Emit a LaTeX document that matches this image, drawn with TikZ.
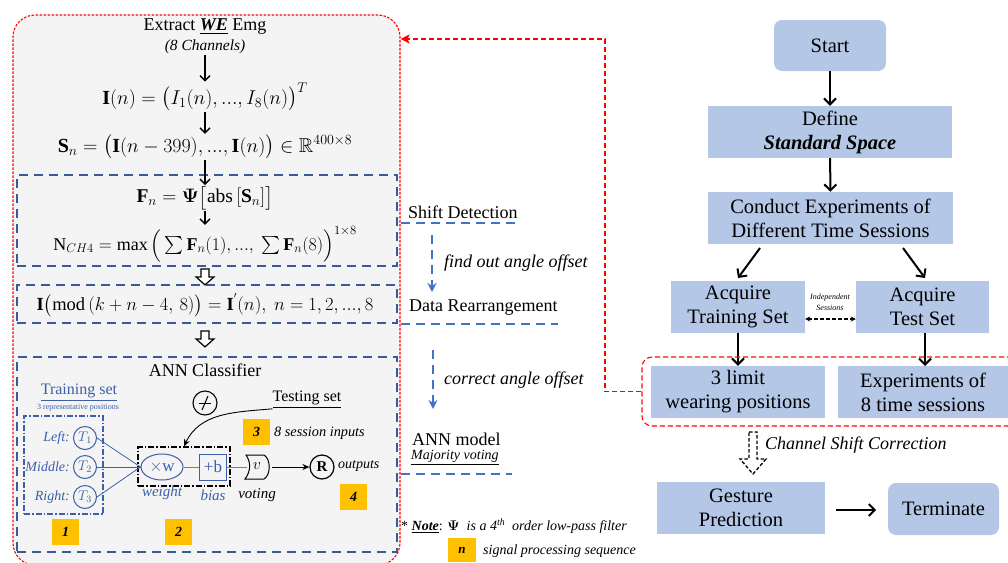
\RequirePackage{fix-cm}
\documentclass[tikz,border=0pt]{standalone}
\usepackage{amsmath,amssymb}
\usepackage{fontspec}
\setmainfont{Liberation Serif}
\usetikzlibrary{arrows.meta,shapes.geometric,calc}
\definecolor{boxblue}{HTML}{B4C7E7}
\definecolor{panelgray}{HTML}{F4F4F4}
\definecolor{dkblue}{HTML}{3A5A98}
\definecolor{ltblue}{HTML}{4472C4}
\definecolor{tblue}{HTML}{3D5FA8}
\definecolor{gold}{HTML}{FFC000}
\definecolor{redd}{HTML}{FF0000}
\newcommand\myfs[2]{\fontsize{#1}{#2}\selectfont}
\tikzset{
  fbox/.style={fill=boxblue, minimum width=244, minimum height=52, align=center, inner sep=0, font=\myfs{20.5}{24}},
  sbox/.style={fill=boxblue, minimum width=134, minimum height=52, align=center, inner sep=0, font=\myfs{20.5}{24}},
  rbox/.style={fill=boxblue, rounded corners=8, align=center, inner sep=0, font=\myfs{20.5}{24}},
  bigarr/.style={line width=2pt, -{Straight Barb[length=6pt,width=12pt]}},
  smarr/.style={line width=1.4pt, -{Straight Barb[length=5pt,width=10pt]}},
  bluebox/.style={draw=dkblue, line width=1.8pt, dash pattern=on 9pt off 6pt, minimum width=380, inner sep=0},
  ltdash/.style={draw=ltblue, line width=1.8pt, dash pattern=on 9pt off 6pt},
  formula/.style={inner sep=1},
  mid/.style={anchor=west, inner sep=0, font=\myfs{18}{21}},
  midit/.style={anchor=west, inner sep=0, font=\myfs{18}{21}\itshape},
  obox/.style={fill=gold, minimum width=27, minimum height=26, inner sep=0, font=\myfs{14}{16}\bfseries\itshape},
  tcirc/.style={circle, draw=tblue, line width=1pt, minimum size=23, inner sep=0, text=tblue, font=\myfs{14}{16}},
  lbl/.style={anchor=east, inner sep=0, text=tblue, font=\myfs{14}{16}\itshape},
  reddash/.style={draw=redd, line width=1.1pt, dash pattern=on 5pt off 3pt},
}
\begin{document}
\begin{tikzpicture}[x=1pt,y=-1pt]
\useasboundingbox (0,0) rectangle (1008,562);
% ---------- left panel ----------
\node[draw=redd, fill=panelgray, line width=1.1pt, dash pattern=on 2.5pt off 1.5pt, rounded corners=22,
      minimum width=387, minimum height=550, inner sep=0] (panel) at (206.5,290) {};

\node[inner sep=0, font=\myfs{18}{21}] (ext) at (205,27) {Extract \underline{\textbf{\textit{WE}}} Emg};
\node[inner sep=1, font=\myfs{15.5}{18}\itshape] (ch8) at (205,47) {(8 Channels)};
\node[formula, font=\myfs{20}{23}] (In) at (205,97) {$\mathbf{I}(n)=\big(I_1(n),...,I_8(n)\big)^{T}$};
\node[formula, font=\myfs{20}{23}] (Sn) at (205,147) {$\mathbf{S}_n=\big(\mathbf{I}(n-399),...,\mathbf{I}(n)\big)\in\mathbb{R}^{400\times 8}$};

\node[bluebox, minimum height=91] (shiftbox) at (207,220.5) {};
\node[formula, font=\myfs{19.5}{22}] (Fn) at (205,198) {$\mathbf{F}_n=\boldsymbol{\Psi}\big[\mathrm{abs}\,[\mathbf{S}_n]\big]$};
\node[formula, font=\myfs{18}{21}] (Nch) at (205,244) {$\mathrm{N}_{CH4}=\max\Big(\sum\mathbf{F}_n(1),...,\ \sum\mathbf{F}_n(8)\Big)^{1\times 8}$};

\node[bluebox, minimum height=38] (rearrbox) at (207,304) {};
\node[formula, font=\myfs{18.5}{21}] (Imod) at (205,305) {$\mathbf{I}\big(\mathrm{mod}\,(k+n-4,\,8)\big)=\mathbf{I}^{'}(n),\ n=1,2,...,8$};

\node[bluebox, minimum height=195] (annbox) at (207,454.5) {};
\node[inner sep=0, font=\myfs{18}{21}] (annc) at (205,370) {ANN Classifier};

\draw[smarr] (ch8.south) -- (In.north);
\draw[smarr] (In.south) -- (Sn.north);
\draw[smarr] (Sn.south) -- (Fn.north);
\draw[smarr] (Fn.south) -- (Nch.north);

% hollow arrows
\coordinate (h1) at ($(shiftbox.south)+(-2,2)$);
\coordinate (h2) at ($(rearrbox.south)+(-2,7)$);
\draw[line width=1.2pt, fill=white] ($(h1)+(-4,0)$) -- ($(h1)+(4,0)$) -- ($(h1)+(4,8)$) -- ($(h1)+(9,8)$) -- ($(h1)+(0,16)$) -- ($(h1)+(-9,8)$) -- ($(h1)+(-4,8)$) -- cycle;
\draw[line width=1.2pt, fill=white] ($(h2)+(-4,0)$) -- ($(h2)+(4,0)$) -- ($(h2)+(4,8)$) -- ($(h2)+(9,8)$) -- ($(h2)+(0,16)$) -- ($(h2)+(-9,8)$) -- ($(h2)+(-4,8)$) -- cycle;

% ANN classifier contents
\node[inner sep=0, text=tblue, font=\myfs{16}{18}] (trl) at (79,393) {\underline{Training set}};
\node[inner sep=0, text=tblue, font=\myfs{8}{9}] (rep) at (78,408) {3 representative positions};
\node[draw=tblue, line width=1.2pt, dash pattern=on 6pt off 2pt on 1.5pt off 2pt, minimum width=79, minimum height=98, inner sep=0] (trbox) at (63.5,465) {};
\node[tcirc] (t1) at (85,438) {$T_1$};
\node[tcirc] (t2) at (85,467) {$T_2$};
\node[tcirc] (t3) at (85,497) {$T_3$};
\node[lbl] (l1) at (70,438) {Left:};
\node[lbl] (l2) at (70,467) {Middle:};
\node[lbl] (l3) at (70,497) {Right:};

\node[ellipse, draw=tblue, line width=1pt, minimum width=42, minimum height=26, inner sep=0, text=tblue, font=\myfs{17}{19}] (wt) at (162,467) {$\times$w};
\node[draw=tblue, line width=1pt, minimum width=27, minimum height=26, inner sep=0, text=tblue, font=\myfs{17}{19}] (bs) at (213,467) {+b};
\node[draw=black, line width=1.2pt, dash pattern=on 6pt off 2pt on 1.5pt off 2pt, minimum width=92, minimum height=39, inner sep=0] (wbbox) at (184,466.5) {};
\node[inner sep=0, font=\myfs{16}{18}] (vt) at (257,466) {$v$};
\draw[line width=1pt] (246,455) .. controls (251,462) and (251,471) .. (245,479) -- (264,479) .. controls (271,475) and (271,459) .. (264,455) -- cycle;
\node[circle, draw, line width=1.2pt, minimum size=24, inner sep=0, font=\myfs{15}{17}\bfseries] (rr) at (322,467) {R};
\node[anchor=west, inner sep=0, font=\myfs{14}{16}\itshape] (outp) at (338,466) {outputs};

\draw[tblue, line width=0.8pt] (t1.east) -- (wt.west);
\draw[tblue, line width=0.8pt] (t2.east) -- (wt.west);
\draw[tblue, line width=0.8pt] (t3.east) -- (wt.west);
\draw[gray, line width=1pt] (wt.east) -- (bs.west);
\draw[gray, line width=1pt] (bs.east) -- (247,467);
\draw[line width=1pt, -{Stealth[length=7pt,width=6pt]}] (272,467) -- (rr.west);

\node[inner sep=0, text=tblue, font=\myfs{15}{17}\itshape] (wl) at (162,493) {weight};
\node[inner sep=0, text=tblue, font=\myfs{15}{17}\itshape] (bl) at (213,495) {bias};
\node[inner sep=0, font=\myfs{15}{17}\itshape] (vl) at (257,495) {voting};

\node[circle, draw, line width=1.1pt, minimum size=24, inner sep=0] (pc) at (205,403) {};
\draw[line width=1pt] ($(pc.center)+(-6,0)$) -- ($(pc.center)+(6,0)$);
\draw[line width=1pt] ($(pc.center)+(3,-7)$) -- ($(pc.center)+(-3,7)$);
\node[inner sep=0, font=\myfs{16}{18}] (ts) at (307,400) {\underline{Testing set}};
\draw[line width=0.9pt, -{Stealth[length=7pt,width=6pt]}] (ts.south west) to[out=185,in=65] (wbbox.north);

\node[obox] (o1) at (65.5,532) {1};
\node[obox] (o2) at (178.5,532) {2};
\node[obox] (o3) at (256.5,431.5) {3};
\node[obox] (o4) at (353.5,497) {4};
\node[anchor=west, inner sep=0, font=\myfs{14.3}{16}\itshape] (sess) at (274,433) {8 session inputs};

% ---------- middle labels ----------
\node[mid] (sd) at (408,212) {Shift Detection};
\draw[ltdash] (401,223) -- (518,223);
\draw[ltdash, -{Stealth[length=9pt,width=9pt,inset=3pt]}] (432,235) -- (432,292);
\node[midit] (fo) at (444,263) {find out angle offset};
\node[mid] (dr) at (409,308) {Data Rearrangement};
\draw[ltdash] (401,324) -- (558,324);
\draw[ltdash, -{Stealth[length=9pt,width=9pt,inset=3pt]}] (433,350) -- (433,409);
\node[midit] (co) at (444,380) {correct angle offset};
\node[mid] (am) at (412,439) {ANN model};
\node[anchor=west, inner sep=0, font=\myfs{14}{16}\itshape] (mv) at (411,458) {\underline{Majority voting}};
\draw[ltdash] (401,474) -- (512,474);
\node[anchor=west, inner sep=0, font=\myfs{14}{16}] (note) at (401,526) {* \underline{\textbf{\textit{Note}}}: $\boldsymbol{\Psi}$\ \ \textit{is a 4\textsuperscript{th}\ \ order low-pass filter}};
\node[obox, minimum width=28, minimum height=24, font=\myfs{13}{15}\bfseries\itshape] (on) at (462,550) {n};
\node[anchor=west, inner sep=0, font=\myfs{14}{16}\itshape] (spq) at (483,551) {signal processing sequence};

% ---------- right flowchart ----------
\node[rbox, minimum width=112, minimum height=51] (start) at (830,45.5) {Start};
\node[fbox] (def) at (830,132) {Define\\\textbf{\textit{Standard Space}}};
\node[fbox, minimum width=245] (cond) at (830.5,218) {Conduct Experiments of\\Different Time Sessions};
\node[sbox] (atr) at (738,307) {Acquire\\Training Set};
\node[sbox, minimum width=133] (ate) at (922.5,307) {Acquire\\Test Set};
\node[sbox, minimum width=174] (lim) at (738,392) {3 limit\\wearing positions};
\node[sbox, minimum width=170] (exp8) at (923,392) {Experiments of\\8 time sessions};
\node[fbox, minimum width=168] (gp) at (741,508) {Gesture\\Prediction};
\node[rbox, minimum width=111, minimum height=52] (term) at (943.5,509) {Terminate};
\node[inner sep=0, align=center, font=\myfs{8}{11}\itshape] (ind) at (830,302) {Independent\\Sessions};

\draw[bigarr] (start) -- (def);
\draw[bigarr] (def) -- (cond);
\draw[bigarr] (760,248) -- (738,278);
\draw[bigarr] (903,248) -- (925,278);
\draw[line width=1.1pt, dash pattern=on 3.5pt off 2.5pt, {Stealth[length=5pt,width=5pt]}-{Stealth[length=5pt,width=5pt]}] (atr.east |- 0,319) -- (ate.west |- 0,319);
\draw[bigarr] (atr.south) -- (atr.south |- lim.north);
\draw[bigarr] (925,333) -- (925,366);
\draw[bigarr] (gp.east |- 0,510) ++(11,0) -- ++(40,0);

\node[reddash, draw, rounded corners=10, minimum width=380, minimum height=69, inner sep=0] (redbox) at (832,391.5) {};
\coordinate (c1) at (605,39);
\draw[reddash, -{Stealth[length=9pt,width=9pt,inset=2pt]}, fill=none] (redbox.west) -| (c1) -- (panel.east |- c1);

% hollow dashed arrow
\coordinate (h3) at (753,432);
\draw[line width=1.3pt, dash pattern=on 3.5pt off 2pt, fill=white] ($(h3)+(-4,0)$) -- ($(h3)+(4,0)$) -- ($(h3)+(4,27)$) -- ($(h3)+(13,27)$) -- ($(h3)+(0,42)$) -- ($(h3)+(-13,27)$) -- ($(h3)+(-4,27)$) -- cycle;
\node[anchor=west, inner sep=0, font=\myfs{18}{21}\itshape] (csc) at (765,445) {Channel Shift Correction};
\end{tikzpicture}
\end{document}
